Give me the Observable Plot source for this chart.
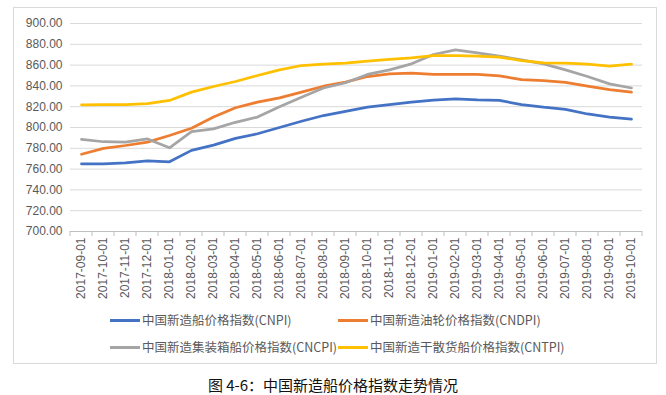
<!DOCTYPE html>
<html><head><meta charset="utf-8">
<script src="https://cdn.jsdelivr.net/npm/d3@7"></script>
<script src="https://cdn.jsdelivr.net/npm/@observablehq/plot@0.6"></script>
<style>
body{margin:0;background:#fff;}
#wrap{position:relative;width:666px;height:395px;overflow:hidden;font-family:"Noto Sans CJK SC",sans-serif;background:#fff;}
#frame{position:absolute;left:13px;top:7px;width:644px;height:357px;border:1px solid #d9d9d9;box-sizing:border-box;}
#chart{position:absolute;left:0;top:0;}
.leg{position:absolute;font-size:12.5px;color:#595959;white-space:nowrap;line-height:16px;}
.sw{position:absolute;width:30px;height:3px;}
#caption{position:absolute;left:0;width:666px;top:377px;text-align:center;font-size:15px;line-height:16px;color:#111;}
</style></head>
<body>
<div id="wrap">
  <div id="frame"></div>
  <div id="chart"></div>
  <div id="legend"></div>
  <div id="caption">图 4-6：中国新造船价格指数走势情况</div>
</div>
<script>
const dates = ["2017-09-01","2017-10-01","2017-11-01","2017-12-01","2018-01-01","2018-02-01","2018-03-01","2018-04-01","2018-05-01","2018-06-01","2018-07-01","2018-08-01","2018-09-01","2018-10-01","2018-11-01","2018-12-01","2019-01-01","2019-02-01","2019-03-01","2019-04-01","2019-05-01","2019-06-01","2019-07-01","2019-08-01","2019-09-01","2019-10-01"];
const cnpi  = [765,765,766,768,767,778,783,789.5,794,800,806,811.5,815.5,819.5,822,824.5,826.3,827.5,826.5,826,822,819.5,817.5,813,810,808];
const cndpi = [774.3,780,782.7,786,792.3,799.3,810,819,824.4,828.5,834,839.7,843.6,849,851.6,852.2,851,851,851,849.7,846,845,843.3,839.7,836.5,834];
const cncpi = [788.5,786.3,786,789,780.5,796,798.7,805,810,820,829,838,843,851,855.4,861.2,870.2,874.7,871.8,868.6,865,861.2,855.4,849,842,838];
const cntpi = [821.8,822,822,823,826,834,839.4,844.2,850,855.4,859.6,861,861.8,863.8,865.4,867,869.2,869.2,868.6,867.6,864.4,862.2,861.8,861,859,861];
const seriesNames = ["中国新造船价格指数(CNPI)","中国新造油轮价格指数(CNDPI)","中国新造集装箱船价格指数(CNCPI)","中国新造干散货船价格指数(CNTPI)"];
const seriesColors = ["#4472C4","#ED7D31","#A5A5A5","#FFC000"];
const yTicks = [700,720,740,760,780,800,820,840,860,880,900];

const seriesValues = [cnpi, cndpi, cncpi, cntpi];
const rows = seriesNames.flatMap((name, k) => dates.map((d, i) => ({date: d, value: seriesValues[k][i], name})));

const W = 666, H = 305, ML = 70, MR = 24, MT = 23, MB = 74;
const chart = Plot.plot({
  width: W, height: H,
  marginLeft: ML, marginRight: MR, marginTop: MT, marginBottom: MB,
  style: {background: "transparent", color: "#595959", fontFamily: "Liberation Sans, Arial, sans-serif", fontSize: "12px"},
  x: {type: "point", domain: dates, padding: 0.5, label: null, tickSize: 0, tickPadding: 6, tickRotate: -90},
  y: {domain: [700, 900], ticks: yTicks, tickFormat: d3.format(".2f"), label: null, tickSize: 0, tickPadding: 8},
  color: {domain: seriesNames, range: seriesColors},
  marks: [
    Plot.ruleY(yTicks.filter(t => t > 700), {stroke: "#d9d9d9", strokeWidth: 1}),
    Plot.ruleY([700], {stroke: "#bfbfbf", strokeWidth: 1}),
    Plot.line(rows, {x: "date", y: "value", z: "name", stroke: "name", strokeWidth: 2.75, strokeLinejoin: "round", strokeLinecap: "round"})
  ]
});
document.getElementById("chart").appendChild(chart);

// boundary tick marks on x axis, derived from the x scale
const xs = chart.scale("x");
const ys = chart.scale("y");
const step = xs.apply(dates[1]) - xs.apply(dates[0]);
const y0 = ys.apply(700);
const svg = d3.select(chart);
const bounds = dates.map(d => xs.apply(d) - step / 2).concat([xs.apply(dates[dates.length - 1]) + step / 2]);
svg.append("g").selectAll("line").data(bounds).join("line")
  .attr("x1", d => d).attr("x2", d => d).attr("y1", y0).attr("y2", y0 + 5)
  .attr("stroke", "#bfbfbf");

// legend
const legend = document.getElementById("legend");
const pos = [[110, 320], [338, 320], [110, 347], [338, 347]];
seriesNames.forEach((name, k) => {
  const [lx, ly] = pos[k];
  const sw = document.createElement("div");
  sw.className = "sw";
  sw.style.left = lx + "px"; sw.style.top = (ly - 1.5) + "px"; sw.style.background = seriesColors[k];
  legend.appendChild(sw);
  const t = document.createElement("div");
  t.className = "leg";
  t.style.left = (lx + 32) + "px"; t.style.top = (ly - 8) + "px";
  t.textContent = name;
  legend.appendChild(t);
});
</script>
</body></html>
